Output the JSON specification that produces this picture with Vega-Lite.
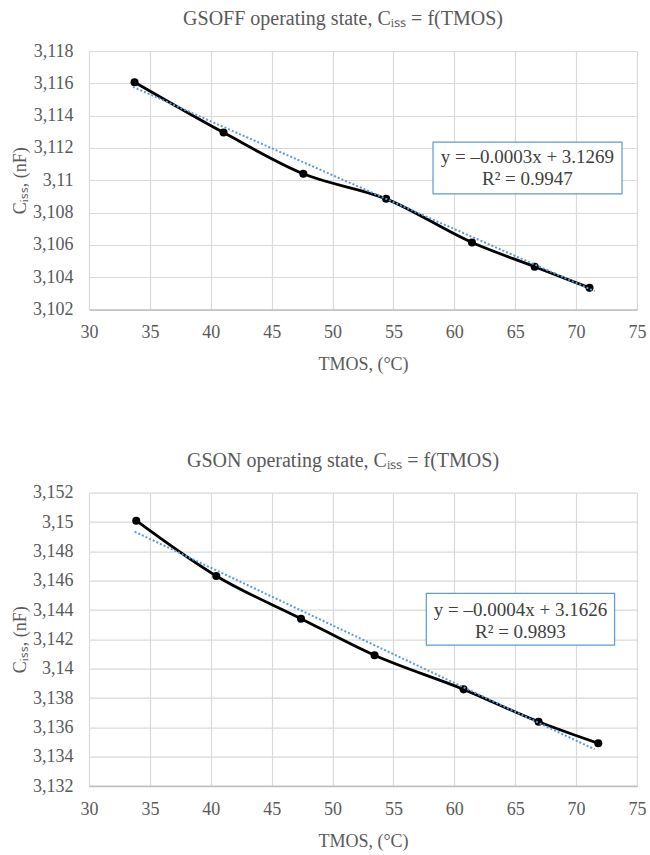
{
  "$schema": "https://vega.github.io/schema/vega-lite/v6.json",
  "autosize": {"type": "pad"},
  "padding": {"left": 11, "top": 9, "right": 5, "bottom": 5},
  "background": "white",
  "bounds": "flush",
  "spacing": 182.7,
  "datasets": {
    "off": [
      {"T": 33.74, "C": 3.11607},
      {"T": 41.05, "C": 3.11295},
      {"T": 47.6, "C": 3.1104},
      {"T": 54.4, "C": 3.10885},
      {"T": 61.45, "C": 3.10615},
      {"T": 66.6, "C": 3.10465},
      {"T": 71.1, "C": 3.10334}
    ],
    "off_trend": [
      {"T": 33.61, "C": 3.11578},
      {"T": 71.52, "C": 3.10314}
    ],
    "on": [
      {"T": 33.88, "C": 3.15009},
      {"T": 40.45, "C": 3.14632},
      {"T": 47.41, "C": 3.14341},
      {"T": 53.45, "C": 3.14091},
      {"T": 60.76, "C": 3.13859},
      {"T": 66.92, "C": 3.13638},
      {"T": 71.82, "C": 3.13491}
    ],
    "on_trend": [
      {"T": 33.75, "C": 3.14934},
      {"T": 71.52, "C": 3.1345}
    ],
    "off_eq": [{"eq": "y = –0.0003x + 3.1269", "r2": "R² = 0.9947"}],
    "on_eq": [{"eq": "y = –0.0004x + 3.1626", "r2": "R² = 0.9893"}]
  },
  "config": {
    "font": "Liberation Serif",
    "view": {"stroke": null},
    "title": {"font": "Liberation Serif", "fontSize": 20, "fontWeight": "normal", "color": "#595959", "offset": 13, "dx": -20},
    "axis": {
      "labelFont": "Liberation Serif",
      "titleFont": "Liberation Serif",
      "labelFontSize": 18,
      "titleFontSize": 18,
      "titleFontWeight": "normal",
      "labelColor": "#595959",
      "titleColor": "#595959",
      "gridColor": "#d9d9d9",
      "gridWidth": 1.2,
      "ticks": false,
      "labelOverlap": false,
      "labelFlush": false
    },
    "axisX": {"labelPadding": 14, "titlePadding": 14, "domainColor": "#bfbfbf", "domainWidth": 1.5},
    "axisY": {"labelPadding": 16, "titlePadding": 3, "domain": false}
  },
  "vconcat": [
    {
      "width": 548,
      "height": 258.5,
      "title": "GSOFF operating state,  Cᵢₛₛ = f(TMOS)",
      "layer": [
        {
          "data": {"name": "off"},
          "mark": {"type": "line", "color": "black", "strokeWidth": 2.8, "interpolate": "monotone"},
          "encoding": {
            "x": {"field": "T", "type": "quantitative", "scale": {"domain": [30, 75], "nice": false, "zero": false},
              "axis": {"values": [30, 35, 40, 45, 50, 55, 60, 65, 70, 75], "title": "TMOS, (°C)"}},
            "y": {"field": "C", "type": "quantitative", "scale": {"domain": [3.102, 3.118], "nice": false, "zero": false},
              "axis": {"values": [3.102, 3.104, 3.106, 3.108, 3.11, 3.112, 3.114, 3.116, 3.118], "tickCount": 9, "labelExpr": "replace(format(datum.value, '.3~f'), '.', ',')", "title": "Cᵢₛₛ, (nF)"}}
          }
        },
        {
          "data": {"name": "off"},
          "mark": {"type": "point", "filled": true, "color": "black", "size": 65, "opacity": 1},
          "encoding": {
            "x": {"field": "T", "type": "quantitative", "axis": {"values": [30, 35, 40, 45, 50, 55, 60, 65, 70, 75], "title": "TMOS, (°C)"}},
            "y": {"field": "C", "type": "quantitative", "axis": {"values": [3.102, 3.104, 3.106, 3.108, 3.11, 3.112, 3.114, 3.116, 3.118], "tickCount": 9, "labelExpr": "replace(format(datum.value, '.3~f'), '.', ',')", "title": "Cᵢₛₛ, (nF)"}}
          }
        },
        {
          "data": {"name": "off_trend"},
          "mark": {"type": "line", "color": "#5B9BD5", "strokeWidth": 2, "strokeDash": [2, 2]},
          "encoding": {
            "x": {"field": "T", "type": "quantitative", "axis": {"values": [30, 35, 40, 45, 50, 55, 60, 65, 70, 75], "title": "TMOS, (°C)"}},
            "y": {"field": "C", "type": "quantitative", "axis": {"values": [3.102, 3.104, 3.106, 3.108, 3.11, 3.112, 3.114, 3.116, 3.118], "tickCount": 9, "labelExpr": "replace(format(datum.value, '.3~f'), '.', ',')", "title": "Cᵢₛₛ, (nF)"}}
          }
        },
        {
          "data": {"name": "off_eq"},
          "mark": {"type": "rect", "fill": "white", "stroke": "#5B9BD5", "strokeWidth": 1.2},
          "encoding": {
            "x": {"datum": 58.25, "type": "quantitative", "axis": {"values": [30, 35, 40, 45, 50, 55, 60, 65, 70, 75], "title": "TMOS, (°C)"}}, "x2": {"datum": 73.77},
            "y": {"datum": 3.11236, "type": "quantitative", "axis": {"values": [3.102, 3.104, 3.106, 3.108, 3.11, 3.112, 3.114, 3.116, 3.118], "tickCount": 9, "labelExpr": "replace(format(datum.value, '.3~f'), '.', ',')", "title": "Cᵢₛₛ, (nF)"}}, "y2": {"datum": 3.10916}
          }
        },
        {
          "data": {"name": "off_eq"},
          "mark": {"type": "text", "font": "Liberation Serif", "fontSize": 19, "color": "#404040", "align": "center", "baseline": "middle"},
          "encoding": {
            "x": {"datum": 66.0, "type": "quantitative", "axis": {"values": [30, 35, 40, 45, 50, 55, 60, 65, 70, 75], "title": "TMOS, (°C)"}},
            "y": {"datum": 3.11141, "type": "quantitative", "axis": {"values": [3.102, 3.104, 3.106, 3.108, 3.11, 3.112, 3.114, 3.116, 3.118], "tickCount": 9, "labelExpr": "replace(format(datum.value, '.3~f'), '.', ',')", "title": "Cᵢₛₛ, (nF)"}},
            "text": {"field": "eq", "type": "nominal"}
          }
        },
        {
          "data": {"name": "off_eq"},
          "mark": {"type": "text", "font": "Liberation Serif", "fontSize": 19, "color": "#404040", "align": "center", "baseline": "middle"},
          "encoding": {
            "x": {"datum": 66.0, "type": "quantitative", "axis": {"values": [30, 35, 40, 45, 50, 55, 60, 65, 70, 75], "title": "TMOS, (°C)"}},
            "y": {"datum": 3.11005, "type": "quantitative", "axis": {"values": [3.102, 3.104, 3.106, 3.108, 3.11, 3.112, 3.114, 3.116, 3.118], "tickCount": 9, "labelExpr": "replace(format(datum.value, '.3~f'), '.', ',')", "title": "Cᵢₛₛ, (nF)"}},
            "text": {"field": "r2", "type": "nominal"}
          }
        }
      ]
    },
    {
      "width": 548,
      "height": 293.3,
      "title": "GSON operating state,  Cᵢₛₛ = f(TMOS)",
      "layer": [
        {
          "data": {"name": "on"},
          "mark": {"type": "line", "color": "black", "strokeWidth": 2.8, "interpolate": "monotone"},
          "encoding": {
            "x": {"field": "T", "type": "quantitative", "scale": {"domain": [30, 75], "nice": false, "zero": false},
              "axis": {"values": [30, 35, 40, 45, 50, 55, 60, 65, 70, 75], "title": "TMOS, (°C)"}},
            "y": {"field": "C", "type": "quantitative", "scale": {"domain": [3.132, 3.152], "nice": false, "zero": false},
              "axis": {"values": [3.132, 3.134, 3.136, 3.138, 3.14, 3.142, 3.144, 3.146, 3.148, 3.15, 3.152], "tickCount": 11, "labelExpr": "replace(format(datum.value, '.3~f'), '.', ',')", "title": "Cᵢₛₛ, (nF)"}}
          }
        },
        {
          "data": {"name": "on"},
          "mark": {"type": "point", "filled": true, "color": "black", "size": 65, "opacity": 1},
          "encoding": {
            "x": {"field": "T", "type": "quantitative", "axis": {"values": [30, 35, 40, 45, 50, 55, 60, 65, 70, 75], "title": "TMOS, (°C)"}},
            "y": {"field": "C", "type": "quantitative", "axis": {"values": [3.132, 3.134, 3.136, 3.138, 3.14, 3.142, 3.144, 3.146, 3.148, 3.15, 3.152], "tickCount": 11, "labelExpr": "replace(format(datum.value, '.3~f'), '.', ',')", "title": "Cᵢₛₛ, (nF)"}}
          }
        },
        {
          "data": {"name": "on_trend"},
          "mark": {"type": "line", "color": "#5B9BD5", "strokeWidth": 2, "strokeDash": [2, 2]},
          "encoding": {
            "x": {"field": "T", "type": "quantitative", "axis": {"values": [30, 35, 40, 45, 50, 55, 60, 65, 70, 75], "title": "TMOS, (°C)"}},
            "y": {"field": "C", "type": "quantitative", "axis": {"values": [3.132, 3.134, 3.136, 3.138, 3.14, 3.142, 3.144, 3.146, 3.148, 3.15, 3.152], "tickCount": 11, "labelExpr": "replace(format(datum.value, '.3~f'), '.', ',')", "title": "Cᵢₛₛ, (nF)"}}
          }
        },
        {
          "data": {"name": "on_eq"},
          "mark": {"type": "rect", "fill": "white", "stroke": "#5B9BD5", "strokeWidth": 1.2},
          "encoding": {
            "x": {"datum": 57.7, "type": "quantitative", "axis": {"values": [30, 35, 40, 45, 50, 55, 60, 65, 70, 75], "title": "TMOS, (°C)"}}, "x2": {"datum": 73.16},
            "y": {"datum": 3.14514, "type": "quantitative", "axis": {"values": [3.132, 3.134, 3.136, 3.138, 3.14, 3.142, 3.144, 3.146, 3.148, 3.15, 3.152], "tickCount": 11, "labelExpr": "replace(format(datum.value, '.3~f'), '.', ',')", "title": "Cᵢₛₛ, (nF)"}}, "y2": {"datum": 3.14161}
          }
        },
        {
          "data": {"name": "on_eq"},
          "mark": {"type": "text", "font": "Liberation Serif", "fontSize": 19, "color": "#404040", "align": "center", "baseline": "middle"},
          "encoding": {
            "x": {"datum": 65.43, "type": "quantitative", "axis": {"values": [30, 35, 40, 45, 50, 55, 60, 65, 70, 75], "title": "TMOS, (°C)"}},
            "y": {"datum": 3.144, "type": "quantitative", "axis": {"values": [3.132, 3.134, 3.136, 3.138, 3.14, 3.142, 3.144, 3.146, 3.148, 3.15, 3.152], "tickCount": 11, "labelExpr": "replace(format(datum.value, '.3~f'), '.', ',')", "title": "Cᵢₛₛ, (nF)"}},
            "text": {"field": "eq", "type": "nominal"}
          }
        },
        {
          "data": {"name": "on_eq"},
          "mark": {"type": "text", "font": "Liberation Serif", "fontSize": 19, "color": "#404040", "align": "center", "baseline": "middle"},
          "encoding": {
            "x": {"datum": 65.43, "type": "quantitative", "axis": {"values": [30, 35, 40, 45, 50, 55, 60, 65, 70, 75], "title": "TMOS, (°C)"}},
            "y": {"datum": 3.14252, "type": "quantitative", "axis": {"values": [3.132, 3.134, 3.136, 3.138, 3.14, 3.142, 3.144, 3.146, 3.148, 3.15, 3.152], "tickCount": 11, "labelExpr": "replace(format(datum.value, '.3~f'), '.', ',')", "title": "Cᵢₛₛ, (nF)"}},
            "text": {"field": "r2", "type": "nominal"}
          }
        }
      ]
    }
  ]
}
